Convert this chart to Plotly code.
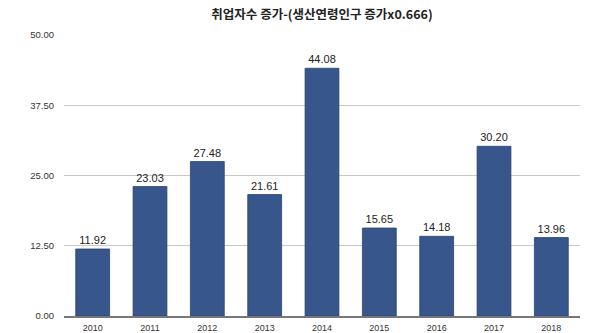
import plotly.graph_objects as go

years = ["2010", "2011", "2012", "2013", "2014", "2015", "2016", "2017", "2018"]
values = [11.92, 23.03, 27.48, 21.61, 44.08, 15.65, 14.18, 30.20, 13.96]
y_ticks = [0, 12.5, 25, 37.5, 50]
y_tick_labels = ["0.00", "12.50", "25.00", "37.50", "50.00"]
title = "취업자수 증가-(생산연령인구 증가x0.666)"

fig = go.Figure(
    go.Bar(
        x=years,
        y=values,
        text=[f"{v:.2f}" for v in values],
        textposition="outside",
        cliponaxis=False,
        textfont=dict(size=11, color="#222222", family="Liberation Sans, Arial, sans-serif"),
        marker=dict(color="#36568c", line=dict(color="#2a4272", width=0.8)),
        width=0.59,
    )
)

fig.update_layout(
    width=600,
    height=333,
    margin=dict(l=64, r=20, t=35, b=17, autoexpand=False),
    paper_bgcolor="white",
    plot_bgcolor="white",
    showlegend=False,
    title=dict(
        text=f"<b>{title}</b>",
        x=0.5,
        xref="paper",
        xanchor="center",
        y=0.955,
        yanchor="middle",
        font=dict(size=12.5, color="#222222", family="Noto Sans CJK KR, sans-serif"),
    ),
    font=dict(family="Liberation Sans, Arial, sans-serif"),
)

fig.update_yaxes(
    range=[0, 50],
    tickvals=y_ticks,
    ticktext=y_tick_labels,
    showgrid=True,
    gridcolor="#c8c8c8",
    gridwidth=1,
    zeroline=False,
    showline=False,
    ticks="",
    ticklabelstandoff=9,
    tickfont=dict(size=9.5, color="#333333"),
    automargin=False,
)

fig.update_xaxes(
    showline=True,
    linecolor="#777777",
    linewidth=2,
    ticks="",
    tickfont=dict(size=9, color="#333333"),
    ticklabelstandoff=2,
    automargin=False,
)

fig.write_html("out.html")
